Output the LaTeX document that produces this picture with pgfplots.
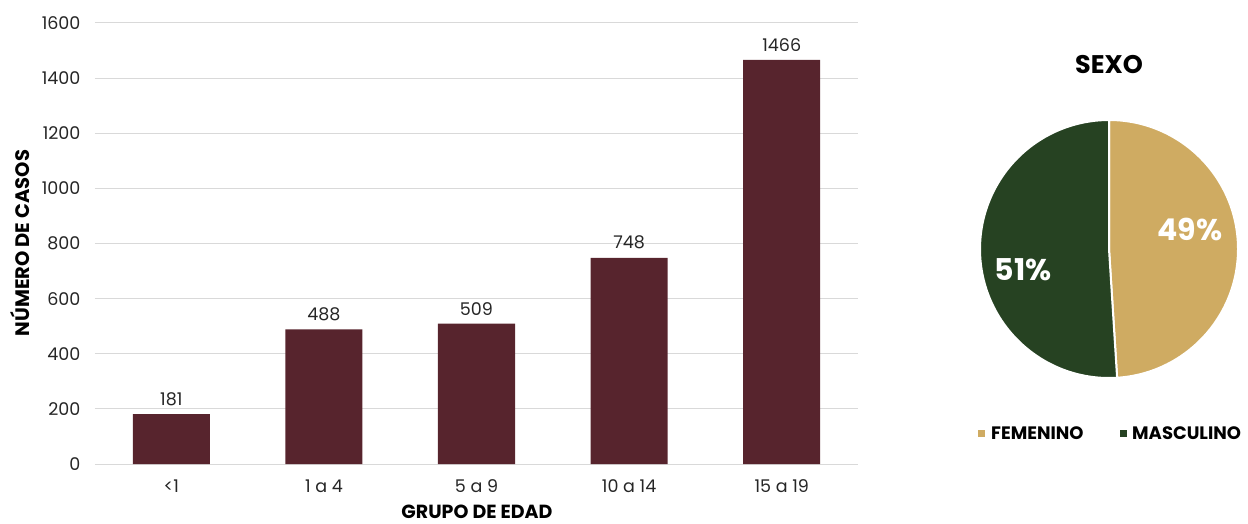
\documentclass[border=0pt]{standalone}
\usepackage{pgfplots}
\pgfplotsset{compat=1.18}
\usepackage{fontspec}
\setmainfont{Poppins}
\definecolor{barc}{HTML}{57242D}
\definecolor{gold}{HTML}{CFAB62}
\definecolor{dgreen}{HTML}{264222}
\definecolor{gridc}{HTML}{D9D9D9}
\begin{document}
\begin{tikzpicture}[x=1pt,y=1pt]
\useasboundingbox (0,0) rectangle (1248,523);
\begin{axis}[
  at={(95pt,59pt)}, anchor=south west,
  scale only axis, width=763pt, height=441pt,
  xmin=-0.5, xmax=4.5, ymin=0, ymax=1600,
  xtick={0,1,2,3,4},
  xticklabels={<1,1 a 4,5 a 9,10 a 14,15 a 19},
  ytick={0,200,...,1600},
  /pgf/number format/assume math mode=true,
  /pgf/number format/1000 sep={},
  ymajorgrids, major grid style={gridc, line width=1pt},
  axis line style={draw=none},
  major tick length=0pt,
  tick label style={font=\fontsize{17.5}{21}\selectfont, text=black!85},
  yticklabel style={xshift=-11pt},
  xticklabel style={yshift=-12pt},
  nodes near coords,
  every node near coord/.append style={font=\fontsize{17.5}{21}\selectfont, text=black!85, yshift=5pt},
]
\addplot[ybar, bar width=77pt, fill=barc, draw=none] coordinates {
  (0,181) (1,488) (2,509) (3,748) (4,1466)
};
\end{axis}
\node[rotate=90, font=\fontsize{19.5}{23}\selectfont\bfseries] at (20,280) {NÚMERO DE CASOS};
\node[font=\fontsize{19}{23}\selectfont\bfseries, inner sep=0pt, anchor=base] at (477,5) {GRUPO DE EDAD};
\def\fem{49}
\def\mas{51}
\begin{axis}[
  at={(1109pt,274pt)}, anchor=center,
  scale only axis, width=258pt, height=258pt,
  xmin=-1, xmax=1, ymin=-1, ymax=1, hide axis, clip=false,
]
\pgfmathsetmacro{\ea}{90-\fem*3.6}
\fill[gold, draw=white, line width=2pt] (axis cs:0,0) -- (axis cs:0,1) arc[start angle=90, end angle=\ea, radius=129pt] -- cycle;
\fill[dgreen, draw=white, line width=2pt] (axis cs:0,0) -- (axis cs:{cos(\ea)},{sin(\ea)}) arc[start angle=\ea, end angle=\ea-\mas*3.6, radius=129pt] -- cycle;
\node[text=white, font=\fontsize{30}{36}\selectfont\bfseries] at (axis cs:0.628,0.155) {\fem\%};
\node[text=white, font=\fontsize{30}{36}\selectfont\bfseries] at (axis cs:-0.667,-0.163) {\mas\%};
\end{axis}
\node[font=\fontsize{25.5}{30}\selectfont\bfseries] at (1109,458) {SEXO};
\fill[gold] (977.5,86.5) rectangle (984.5,93.5);
\node[anchor=west, font=\fontsize{18}{21}\selectfont\bfseries, inner sep=0pt] at (991,90) {FEMENINO};
\fill[dgreen] (1119.5,86.5) rectangle (1126.5,93.5);
\node[anchor=west, font=\fontsize{18}{21}\selectfont\bfseries, inner sep=0pt] at (1132,90) {MASCULINO};
\end{tikzpicture}
\end{document}
